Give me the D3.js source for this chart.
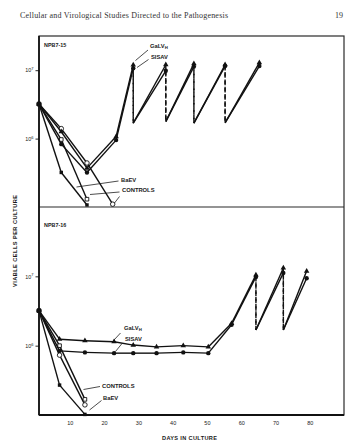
<!DOCTYPE html>
<html>
<head>
<meta charset="utf-8">
<script src="https://cdn.jsdelivr.net/npm/d3@7/dist/d3.min.js"></script>
<style>
  html, body { margin: 0; padding: 0; background: #fff; }
  svg { display: block; }
  text { font-family: "Liberation Sans", Arial, sans-serif; fill: #1a1a1a; }
</style>
</head>
<body>
<svg id="chart" width="350" height="444"></svg>
<script>
// Viable cell counts (cells per culture) against days in culture.
// Each series is a list of [day, cells]; two consecutive points on the same
// day mark a subculture split (drawn dashed, no marker on the lower point).

const dayTicks = [10, 20, 30, 40, 50, 60, 70, 80];
const cellTicks = [1e6, 1e7];

// NPB7-15
const npb15_galv = [[1, 3.2e6], [7.5, 1.26e6], [15, 3.7e5], [23.5, 1.07e6], [28.5, 1.19e7], [28.5, 1.68e6],
  [38, 1.2e7], [38, 1.77e6], [46.2, 1.25e7], [46.2, 1.68e6], [55.3, 1.2e7], [55.3, 1.7e6], [65.3, 1.29e7]];
const npb15_sisav = [[1, 3.2e6], [7.5, 8.3e5], [15, 3.2e5], [23.5, 9.5e5], [28.5, 1.07e7], [28.5, 1.68e6],
  [38, 9.8e6], [38, 1.77e6], [46.2, 1.13e7], [46.2, 1.68e6], [55.3, 1.15e7], [55.3, 1.7e6], [65.3, 1.15e7]];
const npb15_controlA = [[1, 3.2e6], [7.5, 1.4e6], [15, 4.4e5], [22.5, 1.1e5]];
const npb15_controlB = [[1, 3.2e6], [7.5, 9.7e5], [15, 1.3e5]];
const npb15_baev = [[1, 3.2e6], [7.5, 3.2e5], [15, 1.07e5]];

// NPB7-16
const npb16_galv = [[1, 3.2e6], [7, 1.24e6], [14.4, 1.18e6], [22.9, 1.14e6], [28.5, 1.02e6], [35.3, 9.6e5],
  [43.1, 1.0e6], [50.4, 9.6e5], [57.2, 2.1e6], [64.3, 1.05e7], [64.3, 1.68e6], [72.3, 1.32e7], [72.3, 1.68e6], [79.1, 1.19e7]];
const npb16_sisav = [[1, 3.2e6], [7, 8.4e5], [14.4, 8.0e5], [22.9, 7.8e5], [28.5, 7.8e5], [35.3, 7.8e5],
  [43.1, 8.0e5], [50.4, 7.8e5], [57.2, 2.0e6], [64.3, 9.8e6], [64.3, 1.68e6], [72.3, 1.12e7], [72.3, 1.68e6], [79.1, 9.4e6]];
const npb16_controlA = [[1, 3.2e6], [7, 7.3e5], [14.4, 1.4e5]];
const npb16_controlB = [[1, 3.2e6], [7, 1.0e6], [14.4, 1.68e5]];
const npb16_baev = [[1, 3.2e6], [7, 2.7e5], [14.4, 1.02e5]];

const svg = d3.select("#chart");

// running header
svg.append("text").attr("x", 20).attr("y", 17.5)
  .attr("textLength", 208).attr("lengthAdjust", "spacing")
  .style("font-family", "'Liberation Serif', 'Times New Roman', serif")
  .style("font-size", "8px").style("fill", "#333")
  .text("Cellular and Virological Studies Directed to the Pathogenesis");
svg.append("text").attr("x", 343).attr("y", 17.5).attr("text-anchor", "end")
  .style("font-family", "'Liberation Serif', 'Times New Roman', serif")
  .style("font-size", "8px").style("fill", "#333").text("19");

const fLeft = 39, fRight = 344, fTop = 36, fMid = 207, fBottom = 415;

const x = d3.scaleLinear().domain([1, 90]).range([fLeft, fRight]);
const yTop = d3.scaleLog().domain([1e5, Math.pow(10, 7.5)]).range([fMid, fTop]);
const yBot = d3.scaleLog().domain([1e5, 1e8]).range([fBottom, fMid]);

const marker = {
  tri:    { type: d3.symbolTriangle, size: 13, fill: "#111", stroke: "none" },
  dot:    { type: d3.symbolCircle,   size: 15, fill: "#111", stroke: "none" },
  ocirc:  { type: d3.symbolCircle,   size: 16, fill: "#fff", stroke: "#111" },
  osq:    { type: d3.symbolSquare,   size: 13, fill: "#fff", stroke: "#111" },
  sq:     { type: d3.symbolSquare,   size: 12, fill: "#111", stroke: "none" }
};

function drawSeries(g, y, data, m) {
  // solid growth segments and dashed split drops
  for (let i = 1; i < data.length; i++) {
    const a = data[i - 1], b = data[i];
    const split = a[0] === b[0];
    g.append("line")
      .attr("x1", x(a[0])).attr("y1", y(a[1]))
      .attr("x2", x(b[0])).attr("y2", y(b[1]))
      .attr("stroke", "#111")
      .attr("stroke-width", 1.4)
      .attr("stroke-dasharray", split ? "4.5,2.8" : null);
  }
  const pts = data.filter((d, i) => !(i > 0 && data[i - 1][0] === d[0]));
  const spec = marker[m];
  g.selectAll(null).data(pts).enter().append("path")
    .attr("transform", d => `translate(${x(d[0])},${y(d[1])})`)
    .attr("d", d3.symbol().type(spec.type).size(spec.size))
    .attr("fill", spec.fill)
    .attr("stroke", spec.stroke)
    .attr("stroke-width", 0.9);
}

function yAxis(y) {
  const g = svg.append("g").attr("transform", `translate(${fLeft},0)`)
    .call(d3.axisLeft(y).tickValues(cellTicks).tickSize(3.5).tickPadding(2));
  g.select(".domain").remove();
  g.selectAll(".tick line").attr("stroke", "#111").attr("stroke-width", 0.9);
  g.selectAll(".tick text").each(function (d) {
    const t = d3.select(this);
    t.text("10").style("font-size", "5.4px").style("font-family", "'Liberation Sans', Arial, sans-serif");
    t.append("tspan").attr("dy", "-0.55em").style("font-size", "4px")
      .text(Math.round(Math.log10(d)));
  });
}

yAxis(yTop);
yAxis(yBot);

const xAx = svg.append("g").attr("transform", `translate(0,${fBottom})`)
  .call(d3.axisBottom(x).tickValues(dayTicks).tickSize(0).tickPadding(6));
xAx.select(".domain").remove();
xAx.selectAll(".tick text").style("font-size", "5.5px")
  .style("font-family", "'Liberation Sans', Arial, sans-serif");

const gTop = svg.append("g");
const gBot = svg.append("g");

drawSeries(gTop, yTop, npb15_controlA, "ocirc");
drawSeries(gTop, yTop, npb15_controlB, "osq");
drawSeries(gTop, yTop, npb15_baev, "sq");
drawSeries(gTop, yTop, npb15_sisav, "dot");
drawSeries(gTop, yTop, npb15_galv, "tri");

drawSeries(gBot, yBot, npb16_controlA, "ocirc");
drawSeries(gBot, yBot, npb16_controlB, "osq");
drawSeries(gBot, yBot, npb16_baev, "sq");
drawSeries(gBot, yBot, npb16_sisav, "dot");
drawSeries(gBot, yBot, npb16_galv, "tri");

// frame and panel divider
svg.append("rect").attr("x", fLeft).attr("y", fTop)
  .attr("width", fRight - fLeft).attr("height", fBottom - fTop)
  .attr("fill", "none").attr("stroke", "#2a2a2a").attr("stroke-width", 1.2);
svg.append("line").attr("x1", fLeft).attr("x2", fRight).attr("y1", fMid).attr("y2", fMid)
  .attr("stroke", "#2a2a2a").attr("stroke-width", 1.2);
svg.append("line").attr("x1", fLeft).attr("x2", fLeft).attr("y1", fTop).attr("y2", fBottom)
  .attr("stroke", "#111").attr("stroke-width", 1.7);
svg.append("line").attr("x1", fLeft).attr("x2", fRight).attr("y1", fBottom).attr("y2", fBottom)
  .attr("stroke", "#111").attr("stroke-width", 1.9);

// panel titles
const bold = sel => sel.style("font-weight", "bold");
svg.append("text").attr("x", 44).attr("y", 46.5).style("font-size", "5.4px").call(bold).text("NPB7-15");
svg.append("text").attr("x", 44).attr("y", 226.5).style("font-size", "5.4px").call(bold).text("NPB7-16");

// series labels with leader lines
function label(tx, ty, str, sub) {
  const t = svg.append("text").attr("x", tx).attr("y", ty).style("font-size", "5.8px").call(bold).text(str);
  if (sub) t.append("tspan").attr("dy", "0.45em").style("font-size", "4.3px").text(sub);
}
function leader(x1, y1, x2, y2) {
  svg.append("line").attr("x1", x1).attr("y1", y1).attr("x2", x2).attr("y2", y2)
    .attr("stroke", "#111").attr("stroke-width", 0.75);
}

label(150, 47.5, "GaLV", "H");
leader(148, 50, 135.5, 60.5);
label(151, 58.5, "SISAV");
leader(148.5, 59.5, 137, 67.5);
label(121, 182, "BaEV");
leader(118.5, 181, 76.5, 187);
label(122, 192.3, "CONTROLS");
leader(119.5, 192, 90, 194.5);
leader(119.5, 196.5, 114.5, 203);

label(124, 329.5, "GaLV", "H");
leader(120.5, 333, 114, 340);
label(125, 340.5, "SISAV");
leader(122, 343.5, 115.5, 351.5);
label(102, 388, "CONTROLS");
leader(100, 386.5, 83.5, 389.5);
label(103, 399.5, "BaEV");
leader(101.5, 400.5, 89.5, 410);

// axis titles
svg.append("text").attr("transform", "translate(16.5,241) rotate(-90)")
  .attr("text-anchor", "middle").attr("textLength", 92).attr("lengthAdjust", "spacing")
  .style("font-size", "5.6px").call(bold).text("VIABLE CELLS PER CULTURE");
svg.append("text").attr("x", 189.5).attr("y", 440)
  .attr("text-anchor", "middle").attr("textLength", 55).attr("lengthAdjust", "spacing")
  .style("font-size", "5.6px").call(bold).text("DAYS IN CULTURE");
</script>
</body>
</html>
